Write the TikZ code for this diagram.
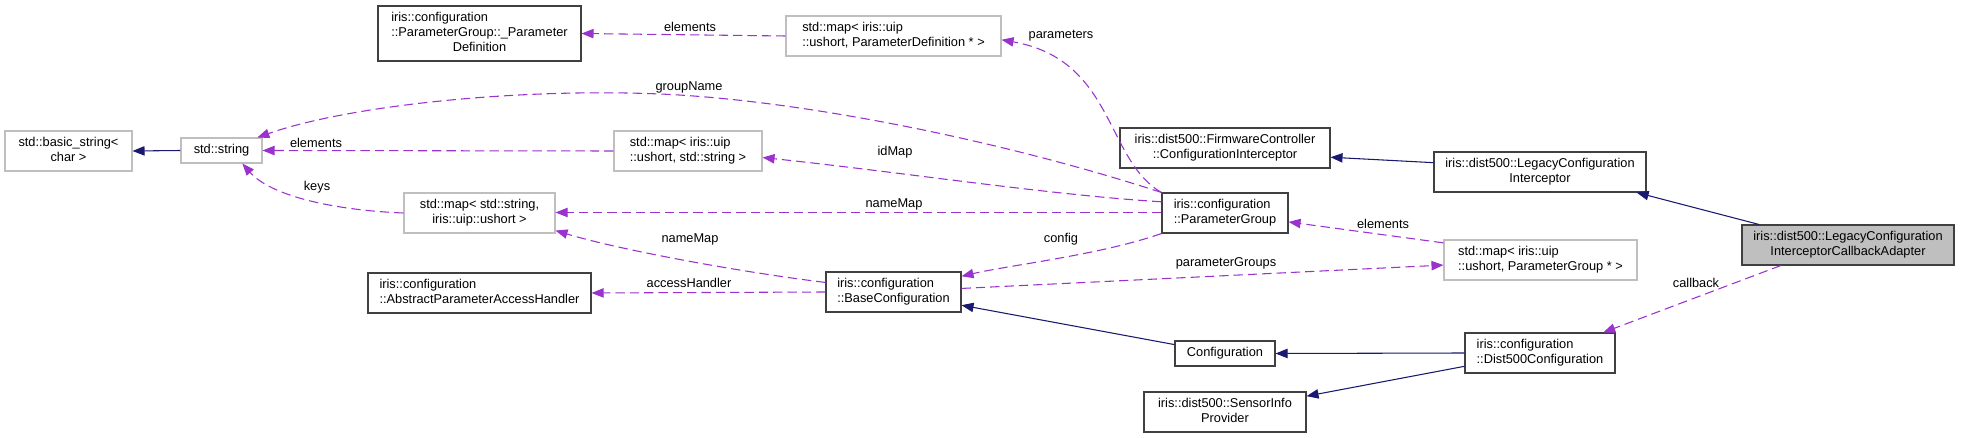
\documentclass[tikz,border=0pt]{standalone}
\usepackage{fontspec}
\setmainfont{Liberation Sans}
\usetikzlibrary{arrows.meta}
\definecolor{dpurple}{RGB}{154,50,205}
\definecolor{dnavy}{RGB}{25,25,112}
\definecolor{graybd}{RGB}{191,191,191}
\definecolor{darkbd}{RGB}{64,64,64}
\newcommand\twol[2]{\begin{tabular}{@{}l@{}}#1\\\multicolumn{1}{@{}c@{}}{#2}\end{tabular}}
\newcommand\threel[3]{\begin{tabular}{@{}l@{}}#1\\#2\\\multicolumn{1}{@{}c@{}}{#3}\end{tabular}}
\begin{document}
\begin{tikzpicture}[x=0.75pt,y=-0.75pt,
  every node/.style={font=\fontsize{9.6}{11.25}\selectfont, inner sep=0pt},
  sz/.style 2 args={minimum width={#1*0.75pt},minimum height={#2*0.75pt}},
  cls/.style={draw=darkbd, line width=0.8pt, fill=white, rectangle},
  ext/.style={draw=graybd, line width=0.8pt, fill=white, rectangle},
  cur/.style={draw=darkbd, line width=0.8pt, fill=graybd, rectangle},
  inh/.style={draw=dnavy, line width=0.8pt, -{Triangle[length=9pt,width=7pt]}},
  use/.style={draw=dpurple, line width=0.8pt, dash pattern=on 7pt off 3.75pt, -{Triangle[length=9pt,width=7pt]}},
]
\useasboundingbox[fill=white] (0,0) rectangle (1968,438);

% nodes
\node[cls,sz={203}{55}] (pdef) at (479.5,33.5) {\threel{iris::configuration}{::ParameterGroup::\_Parameter}{Definition}};
\node[ext,sz={127}{40}] (bstr) at (68.5,151) {\twol{std::basic\_string<}{char >}};
\node[ext,sz={81}{25}] (str) at (221.5,150.5) {std::string};
\node[ext,sz={215}{40}] (mpd) at (893.5,36) {\twol{std::map< iris::uip}{::ushort, ParameterDefinition * >}};
\node[ext,sz={148}{40}] (mus) at (688,151) {\twol{std::map< iris::uip}{::ushort, std::string >}};
\node[ext,sz={151}{40}] (msu) at (479.5,213) {\twol{std::map< std::string,}{iris::uip::ushort >}};
\node[cls,sz={223}{40}] (aph) at (479.5,293) {\twol{iris::configuration}{::AbstractParameterAccessHandler}};
\node[cls,sz={126}{40}] (pg) at (1225,213) {\twol{iris::configuration}{::ParameterGroup}};
\node[cls,sz={210}{40}] (fw) at (1225,148) {\twol{iris::dist500::FirmwareController}{::ConfigurationInterceptor}};
\node[cls,sz={135}{40}] (bc) at (893.5,292) {\twol{iris::configuration}{::BaseConfiguration}};
\node[cls,sz={100}{25}] (cfg) at (1225,353.5) {Configuration};
\node[cls,sz={162}{40}] (sip) at (1225,412) {\twol{iris::dist500::SensorInfo}{Provider}};
\node[cls,sz={212}{40}] (lci) at (1540,172) {\twol{iris::dist500::LegacyConfiguration}{Interceptor}};
\node[ext,sz={193}{40}] (mpg) at (1540.5,260) {\twol{std::map< iris::uip}{::ushort, ParameterGroup * >}};
\node[cls,sz={150}{40}] (d5) at (1540,353) {\twol{iris::configuration}{::Dist500Configuration}};
\node[cur,sz={212}{40}] (ad) at (1848,245) {\twol{iris::dist500::LegacyConfiguration}{InterceptorCallbackAdapter}};

% inheritance edges
\draw[inh] (str.west) -- (bstr.east);
\draw[inh] (cfg.170) -- (bc.-11);
\draw[inh] (d5.west) -- (cfg.east);
\draw[inh] (d5.190) -- (sip.11);
\draw[inh] (lci.175) -- (fw.-5);
\draw[inh] (ad.167) -- (lci.-12.5);

% usage edges
\draw[use] (mpd.west) -- (pdef.east);
\draw[use] (pg.north west) .. controls (1105,160) and (1115,60) .. (mpd.-2);
\coordinate (gn) at (660,94);
\draw[use] (pg.north west) .. controls (1000,140) and (800,100) .. (gn) .. controls (520,88) and (350,105) .. (str.20);
\draw[use] (mus.west) -- (str.east);
\draw[use] (pg.170) .. controls (1050,195) and (900,172) .. (mus.-5);
\draw[use] (msu.west) .. controls (330,210) and (270,195) .. (str.-32);
\draw[use] ([yshift=0.375pt]pg.west) -- ([yshift=0.375pt]msu.east);
\draw[use] (bc.172) .. controls (740,272) and (620,250) .. (msu.-13);
\draw[use] (bc.west) -- (aph.east);
\draw[use] (pg.south west) .. controls (1100,255) and (1010,265) .. (bc.13);
\draw[use] (bc.3) -- (mpg.183);
\draw[use] (mpg.170) -- (pg.-8);
\draw[use] (ad.197) -- (d5.18);

% labels
\node (l1) at (690,27) {elements};
\node (l2) at (1061,36) {parameters};
\node (l3) at (689,87) {groupName};
\node (l4) at (316,143) {elements};
\node (l5) at (895,152) {idMap};
\node (l6) at (317,187) {keys};
\node (l7) at (894,204) {nameMap};
\node (l8) at (690,239) {nameMap};
\node (l9) at (1061,239) {config};
\node (l10) at (1383,224) {elements};
\node (l11) at (1226,263) {parameterGroups};
\node (l12) at (689,283) {accessHandler};
\node (l13) at (1696,283) {callback};
\end{tikzpicture}
\end{document}
